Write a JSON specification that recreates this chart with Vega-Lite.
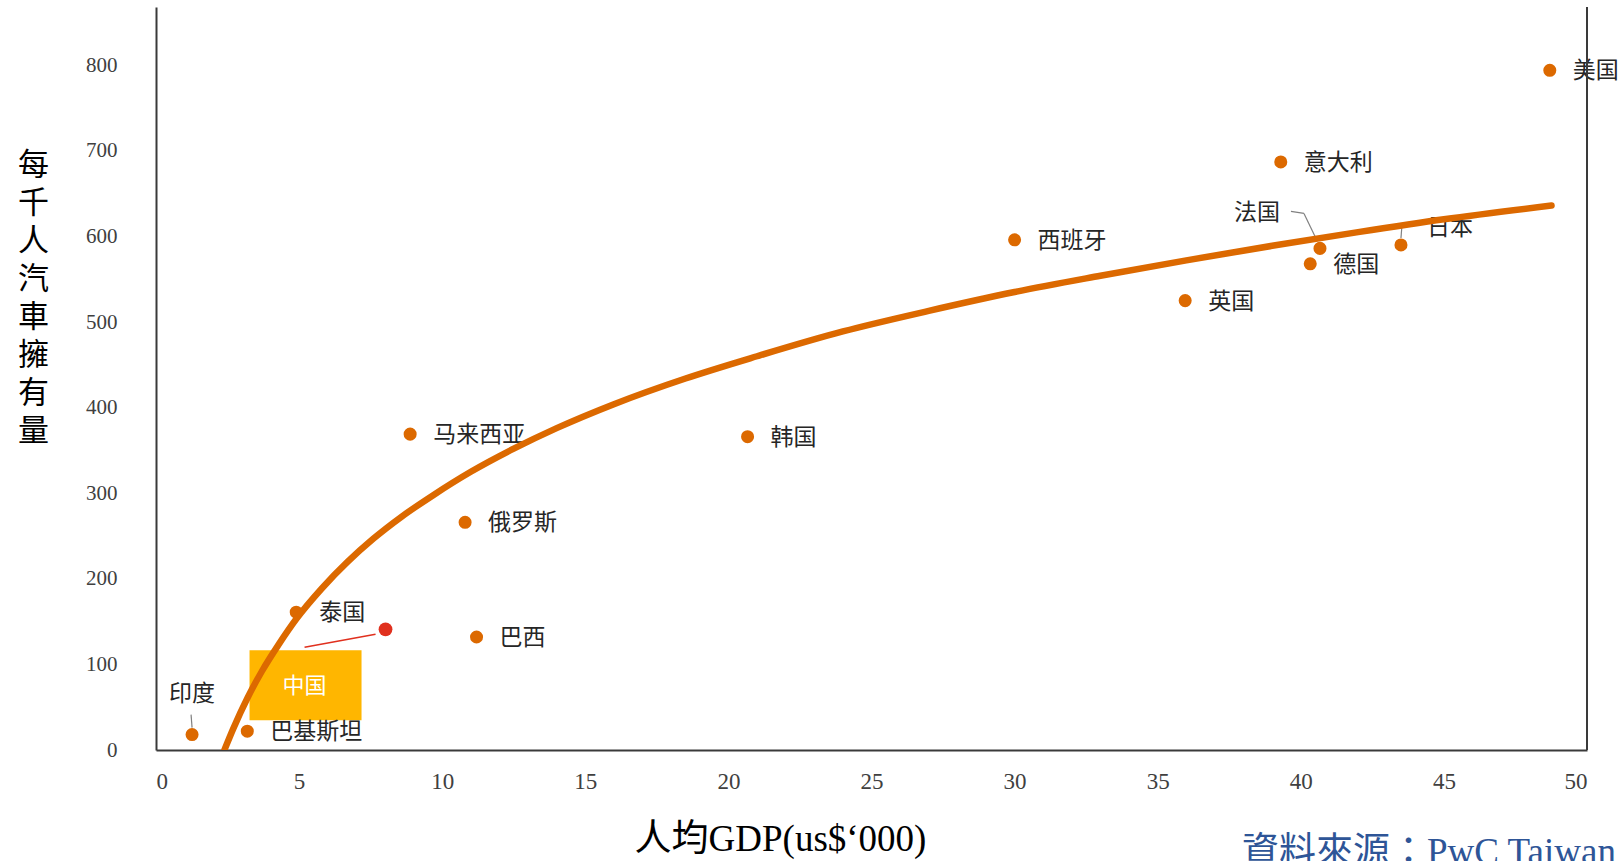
{
  "$schema": "https://vega.github.io/schema/vega-lite/v6.json",
  "width": 1431,
  "height": 743,
  "autosize": {"type": "none"},
  "padding": {"left": 156, "top": 7, "right": 36, "bottom": 111},
  "background": "white",
  "config": {
    "view": {"stroke": null},
    "axis": {"grid": false, "ticks": false, "tickSize": 0, "domainColor": "#3a3a3a", "domainWidth": 2, "labelFont": "Liberation Serif", "labelColor": "#404040"}
  },
  "title": {
    "text": "資料來源：PwC Taiwan",
    "orient": "bottom",
    "anchor": "start",
    "frame": "group",
    "font": "Liberation Serif, Noto Sans CJK TC",
    "fontSize": 37,
    "fontWeight": "normal",
    "color": "#2E5597",
    "offset": 0,
    "dx": 1086,
    "dy": -22
  },
  "datasets": {
    "countries": [
      {"country": "美国", "gdp": 48.7, "cars": 794},
      {"country": "意大利", "gdp": 39.3, "cars": 687},
      {"country": "西班牙", "gdp": 30.0, "cars": 596},
      {"country": "法国", "gdp": 40.67, "cars": 586},
      {"country": "日本", "gdp": 43.5, "cars": 590},
      {"country": "德国", "gdp": 40.33, "cars": 568},
      {"country": "英国", "gdp": 35.96, "cars": 525},
      {"country": "韩国", "gdp": 20.67, "cars": 366},
      {"country": "马来西亚", "gdp": 8.88, "cars": 369},
      {"country": "俄罗斯", "gdp": 10.8, "cars": 266},
      {"country": "巴西", "gdp": 11.2, "cars": 132},
      {"country": "泰国", "gdp": 4.9, "cars": 161},
      {"country": "中国", "gdp": 8.02, "cars": 141},
      {"country": "印度", "gdp": 1.26, "cars": 18},
      {"country": "巴基斯坦", "gdp": 3.19, "cars": 22}
    ],
    "fit": [
      {"gdp": 2.39, "cars": 0},
      {"gdp": 2.7, "cars": 25},
      {"gdp": 3.2, "cars": 61},
      {"gdp": 3.7, "cars": 92},
      {"gdp": 4.3, "cars": 124},
      {"gdp": 4.9, "cars": 153},
      {"gdp": 5.8, "cars": 189},
      {"gdp": 6.7, "cars": 220},
      {"gdp": 7.6, "cars": 247},
      {"gdp": 8.6, "cars": 273},
      {"gdp": 9.7, "cars": 298},
      {"gdp": 11.0, "cars": 325},
      {"gdp": 12.5, "cars": 352},
      {"gdp": 14.0, "cars": 376},
      {"gdp": 16.0, "cars": 404},
      {"gdp": 18.5, "cars": 434},
      {"gdp": 21.0, "cars": 460},
      {"gdp": 24.0, "cars": 489},
      {"gdp": 27.0, "cars": 513},
      {"gdp": 30.0, "cars": 535},
      {"gdp": 33.0, "cars": 554},
      {"gdp": 36.0, "cars": 572},
      {"gdp": 39.0, "cars": 589},
      {"gdp": 42.0, "cars": 605},
      {"gdp": 45.0, "cars": 620},
      {"gdp": 48.76, "cars": 636}
    ]
  },
  "layer": [
    {
      "data": {"name": "countries"},
      "transform": [{"filter": "datum.country == '中国'"}],
      "mark": {"type": "rect", "color": "#FFB600", "xOffset": -136, "x2Offset": -24, "yOffset": 21, "y2Offset": 91},
      "encoding": {
        "x": {
          "field": "gdp", "type": "quantitative",
          "scale": {"domain": [0, 50], "nice": false, "zero": false},
          "axis": {
            "values": [0, 5, 10, 15, 20, 25, 30, 35, 40, 45, 50],
            "labelFontSize": 23,
            "labelPadding": 20,
            "title": "人均GDP(us$‘000)",
            "titleFont": "Liberation Serif, Noto Sans CJK TC",
            "titleFontSize": 37,
            "titleFontWeight": "normal",
            "titleColor": "#000000",
            "titleAlign": "center",
            "titleBaseline": "alphabetic",
            "titleAnchor": null,
            "titleX": 624,
            "titleY": 100
          }
        },
        "x2": {"field": "gdp"},
        "y": {
          "field": "cars", "type": "quantitative",
          "scale": {"domain": [0, 868], "nice": false, "zero": false},
          "axis": {
            "values": [0, 100, 200, 300, 400, 500, 600, 700, 800],
            "labelFontSize": 21,
            "labelPadding": 39,
            "title": ["每", "千", "人", "汽", "車", "擁", "有", "量"],
            "titleFont": "Noto Sans CJK TC",
            "titleFontSize": 31,
            "titleFontWeight": "normal",
            "titleColor": "#000000",
            "titleAngle": 0,
            "titleAlign": "center",
            "titleBaseline": "top",
            "titleLineHeight": 38,
            "titleAnchor": null,
            "titleX": -123,
            "titleY": 143
          }
        },
        "y2": {"field": "cars"}
      }
    },
    {
      "data": {"name": "countries"},
      "transform": [{"filter": "datum.country == '中国'"}],
      "mark": {"type": "rule", "color": "#E0301E", "strokeWidth": 1.5, "xOffset": -81, "yOffset": 18, "x2Offset": -10, "y2Offset": 5},
      "encoding": {
        "x": {"field": "gdp", "type": "quantitative", "scale": {"domain": [0, 50], "nice": false, "zero": false}},
        "x2": {"field": "gdp"},
        "y": {"field": "cars", "type": "quantitative", "scale": {"domain": [0, 868], "nice": false, "zero": false}},
        "y2": {"field": "cars"}
      }
    },
    {
      "data": {"name": "countries"},
      "transform": [{"filter": "datum.country == '法国'"}],
      "mark": {"type": "rule", "color": "#808080", "strokeWidth": 1.2, "xOffset": -29, "yOffset": -37, "x2Offset": -16, "y2Offset": -35},
      "encoding": {
        "x": {"field": "gdp", "type": "quantitative", "scale": {"domain": [0, 50], "nice": false, "zero": false}},
        "x2": {"field": "gdp"},
        "y": {"field": "cars", "type": "quantitative", "scale": {"domain": [0, 868], "nice": false, "zero": false}},
        "y2": {"field": "cars"}
      }
    },
    {
      "data": {"name": "countries"},
      "transform": [{"filter": "datum.country == '法国'"}],
      "mark": {"type": "rule", "color": "#808080", "strokeWidth": 1.2, "xOffset": -16, "yOffset": -35, "x2Offset": -3, "y2Offset": -8},
      "encoding": {
        "x": {"field": "gdp", "type": "quantitative", "scale": {"domain": [0, 50], "nice": false, "zero": false}},
        "x2": {"field": "gdp"},
        "y": {"field": "cars", "type": "quantitative", "scale": {"domain": [0, 868], "nice": false, "zero": false}},
        "y2": {"field": "cars"}
      }
    },
    {
      "data": {"name": "countries"},
      "transform": [{"filter": "datum.country == '日本'"}],
      "mark": {"type": "rule", "color": "#808080", "strokeWidth": 1.2, "xOffset": 0, "yOffset": -7, "x2Offset": 1, "y2Offset": -20},
      "encoding": {
        "x": {"field": "gdp", "type": "quantitative", "scale": {"domain": [0, 50], "nice": false, "zero": false}},
        "x2": {"field": "gdp"},
        "y": {"field": "cars", "type": "quantitative", "scale": {"domain": [0, 868], "nice": false, "zero": false}},
        "y2": {"field": "cars"}
      }
    },
    {
      "data": {"name": "countries"},
      "transform": [{"filter": "datum.country == '印度'"}],
      "mark": {"type": "rule", "color": "#808080", "strokeWidth": 1.2, "xOffset": -1, "yOffset": -20, "x2Offset": 0, "y2Offset": -7},
      "encoding": {
        "x": {"field": "gdp", "type": "quantitative", "scale": {"domain": [0, 50], "nice": false, "zero": false}},
        "x2": {"field": "gdp"},
        "y": {"field": "cars", "type": "quantitative", "scale": {"domain": [0, 868], "nice": false, "zero": false}},
        "y2": {"field": "cars"}
      }
    },
    {
      "data": {"name": "countries"},
      "transform": [{"filter": "datum.country != '中国'"}],
      "mark": {"type": "circle", "color": "#DC6900", "opacity": 1, "size": 170},
      "encoding": {
        "x": {"field": "gdp", "type": "quantitative", "scale": {"domain": [0, 50], "nice": false, "zero": false}},
        "y": {"field": "cars", "type": "quantitative", "scale": {"domain": [0, 868], "nice": false, "zero": false}}
      }
    },
    {
      "data": {"name": "countries"},
      "transform": [{"filter": "datum.country == '中国'"}],
      "mark": {"type": "circle", "color": "#E0301E", "opacity": 1, "size": 190},
      "encoding": {
        "x": {"field": "gdp", "type": "quantitative", "scale": {"domain": [0, 50], "nice": false, "zero": false}},
        "y": {"field": "cars", "type": "quantitative", "scale": {"domain": [0, 868], "nice": false, "zero": false}}
      }
    },
    {
      "data": {"name": "countries"},
      "transform": [{"filter": "indexof(['法国','日本','印度','中国'], datum.country) < 0"}],
      "mark": {"type": "text", "align": "left", "baseline": "middle", "dx": 23, "dy": 1, "font": "Noto Sans CJK SC", "fontSize": 23, "color": "#262626"},
      "encoding": {
        "x": {"field": "gdp", "type": "quantitative", "scale": {"domain": [0, 50], "nice": false, "zero": false}},
        "y": {"field": "cars", "type": "quantitative", "scale": {"domain": [0, 868], "nice": false, "zero": false}},
        "text": {"field": "country"}
      }
    },
    {
      "data": {"name": "countries"},
      "transform": [{"filter": "datum.country == '法国'"}],
      "mark": {"type": "text", "align": "right", "baseline": "middle", "dx": -40, "dy": -35, "font": "Noto Sans CJK SC", "fontSize": 23, "color": "#262626"},
      "encoding": {
        "x": {"field": "gdp", "type": "quantitative", "scale": {"domain": [0, 50], "nice": false, "zero": false}},
        "y": {"field": "cars", "type": "quantitative", "scale": {"domain": [0, 868], "nice": false, "zero": false}},
        "text": {"field": "country"}
      }
    },
    {
      "data": {"name": "countries"},
      "transform": [{"filter": "datum.country == '日本'"}],
      "mark": {"type": "text", "align": "left", "baseline": "middle", "dx": 26, "dy": -17, "font": "Noto Sans CJK SC", "fontSize": 23, "color": "#262626"},
      "encoding": {
        "x": {"field": "gdp", "type": "quantitative", "scale": {"domain": [0, 50], "nice": false, "zero": false}},
        "y": {"field": "cars", "type": "quantitative", "scale": {"domain": [0, 868], "nice": false, "zero": false}},
        "text": {"field": "country"}
      }
    },
    {
      "data": {"name": "countries"},
      "transform": [{"filter": "datum.country == '印度'"}],
      "mark": {"type": "text", "align": "center", "baseline": "middle", "dx": 0, "dy": -41, "font": "Noto Sans CJK SC", "fontSize": 23, "color": "#262626"},
      "encoding": {
        "x": {"field": "gdp", "type": "quantitative", "scale": {"domain": [0, 50], "nice": false, "zero": false}},
        "y": {"field": "cars", "type": "quantitative", "scale": {"domain": [0, 868], "nice": false, "zero": false}},
        "text": {"field": "country"}
      }
    },
    {
      "data": {"name": "countries"},
      "transform": [{"filter": "datum.country == '中国'"}],
      "mark": {"type": "text", "align": "center", "baseline": "middle", "dx": -81, "dy": 57, "font": "Noto Sans CJK SC", "fontSize": 22, "color": "#ffffff"},
      "encoding": {
        "x": {"field": "gdp", "type": "quantitative", "scale": {"domain": [0, 50], "nice": false, "zero": false}},
        "y": {"field": "cars", "type": "quantitative", "scale": {"domain": [0, 868], "nice": false, "zero": false}},
        "text": {"field": "country"}
      }
    },
    {
      "data": {"name": "fit"},
      "mark": {"type": "line", "color": "#DC6900", "strokeWidth": 6.5, "strokeCap": "round", "interpolate": "monotone", "clip": true},
      "encoding": {
        "x": {"field": "gdp", "type": "quantitative", "scale": {"domain": [0, 50], "nice": false, "zero": false}},
        "y": {"field": "cars", "type": "quantitative", "scale": {"domain": [0, 868], "nice": false, "zero": false}}
      }
    },
    {
      "data": {"name": "countries"},
      "mark": {"type": "rule", "color": "#3a3a3a", "strokeWidth": 2},
      "encoding": {
        "x": {"datum": 50, "type": "quantitative", "scale": {"domain": [0, 50], "nice": false, "zero": false}}
      }
    }
  ]
}
